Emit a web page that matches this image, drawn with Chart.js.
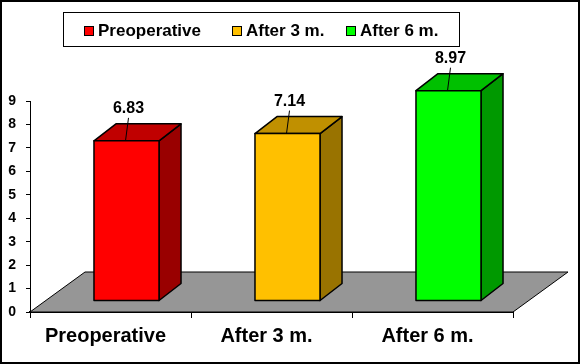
<!DOCTYPE html>
<html>
<head>
<meta charset="utf-8">
<script src="https://cdn.jsdelivr.net/npm/chart.js@4.4.0/dist/chart.umd.min.js"></script>
<style>
  body { margin: 0; background: #fff; }
  canvas { display: block; }
</style>
</head>
<body>
<canvas id="scoreChart" width="580" height="364"></canvas>
<script>
// chart values
const categories = ['Preoperative', 'After 3 m.', 'After 6 m.'];
const scores = [6.83, 7.14, 8.97];
const yTicks = [0, 1, 2, 3, 4, 5, 6, 7, 8, 9];

// face colours: front / top / side
const frontColors = ['#FF0000', '#FFC000', '#00FF00'];
const topColors = ['#C00000', '#C09000', '#00C000'];
const sideColors = ['#990000', '#997300', '#009900'];

const FONT = 'Arial, "Liberation Sans", sans-serif';

// 3d look: bar sits a bit back on the floor
const barShift = { x: 16, y: -11 };
const barDepth = { x: 22, y: -17 };
const floorDepth = { x: 55, y: -40 };
const legendX = [84, 232, 346];

const bar3d = {
    id: 'bar3d',
    beforeDraw(chart) {
        const ctx = chart.ctx;
        ctx.save();
        ctx.fillStyle = '#fff';
        ctx.fillRect(0, 0, chart.width, chart.height);
        ctx.restore();
    },
    beforeDatasetsDraw(chart) {
        // grey floor
        const ctx = chart.ctx;
        const area = chart.chartArea;
        const y0 = chart.scales.y.getPixelForValue(0);
        ctx.save();
        ctx.beginPath();
        ctx.moveTo(area.left, y0);
        ctx.lineTo(area.right, y0);
        ctx.lineTo(area.right + floorDepth.x, y0 + floorDepth.y);
        ctx.lineTo(area.left + floorDepth.x, y0 + floorDepth.y);
        ctx.closePath();
        ctx.fillStyle = '#969696';
        ctx.fill();
        ctx.strokeStyle = '#000';
        ctx.lineWidth = 1;
        ctx.stroke();
        ctx.restore();
    },
    afterDatasetsDraw(chart) {
        const ctx = chart.ctx;
        const meta = chart.getDatasetMeta(0);
        ctx.save();
        ctx.strokeStyle = '#000';
        ctx.lineJoin = 'round';
        meta.data.forEach((el, i) => {
            const cx = el.x + barShift.x;
            const w = el.width;
            const left = cx - w / 2, right = cx + w / 2;
            const top = el.y + barShift.y, bottom = el.base + barShift.y;
            const dx = barDepth.x, dy = barDepth.y;
            ctx.lineWidth = 1.5;

            // side
            ctx.beginPath();
            ctx.moveTo(right, top);
            ctx.lineTo(right + dx, top + dy);
            ctx.lineTo(right + dx, bottom + dy);
            ctx.lineTo(right, bottom);
            ctx.closePath();
            ctx.fillStyle = sideColors[i];
            ctx.fill();
            ctx.stroke();

            // top
            ctx.beginPath();
            ctx.moveTo(left, top);
            ctx.lineTo(right, top);
            ctx.lineTo(right + dx, top + dy);
            ctx.lineTo(left + dx, top + dy);
            ctx.closePath();
            ctx.fillStyle = topColors[i];
            ctx.fill();
            ctx.stroke();

            // front
            ctx.fillStyle = frontColors[i];
            ctx.fillRect(left, top, w, bottom - top);
            ctx.strokeRect(left, top, w, bottom - top);

            // value label + leader line
            const labelY = top + dy - 15;
            ctx.lineWidth = 1;
            ctx.beginPath();
            ctx.moveTo(cx - 1, top);
            ctx.lineTo(cx + 2, labelY + 9);
            ctx.stroke();
            ctx.fillStyle = '#000';
            ctx.font = 'bold 16px ' + FONT;
            ctx.textAlign = 'center';
            ctx.textBaseline = 'middle';
            ctx.fillText(scores[i].toFixed(2), cx + 2, labelY);
        });
        ctx.restore();
    },
    afterDraw(chart) {
        const ctx = chart.ctx;
        ctx.save();
        // legend box
        ctx.strokeStyle = '#000';
        ctx.lineWidth = 1;
        ctx.strokeRect(63.5, 12.5, 396, 34);
        ctx.font = 'bold 17px ' + FONT;
        ctx.textBaseline = 'alphabetic';
        ctx.textAlign = 'left';
        categories.forEach((name, i) => {
            ctx.fillStyle = frontColors[i];
            ctx.fillRect(legendX[i] + 0.5, 26.5, 9, 9);
            ctx.strokeRect(legendX[i] + 0.5, 26.5, 9, 9);
            ctx.fillStyle = '#000';
            ctx.fillText(name, legendX[i] + 14, 36);
        });
        // outer frame
        ctx.lineWidth = 2;
        ctx.strokeRect(1, 1, chart.width - 2, chart.height - 2);
        ctx.restore();
    }
};

const ctx1 = document.getElementById('scoreChart').getContext('2d');

const chartData = {
    labels: categories,
    datasets: [{
        label: 'Score',
        data: scores,
        backgroundColor: 'rgba(0,0,0,0)',
        borderWidth: 0,
        barPercentage: 0.404,
        categoryPercentage: 1
    }]
};

const config = {
    type: 'bar',
    data: chartData,
    options: {
        responsive: false,
        animation: false,
        layout: {
            padding: { left: 0, right: 67, top: 101, bottom: 0 }
        },
        plugins: {
            legend: { display: false },
            tooltip: { enabled: false }
        },
        scales: {
            x: {
                afterFit: s => { s.height = 52; },
                grid: {
                    drawOnChartArea: false,
                    drawTicks: true,
                    tickLength: 6,
                    color: '#000',
                    offset: true
                },
                border: { display: true, color: '#000', width: 2 },
                ticks: {
                    color: '#000',
                    font: { family: FONT, size: 20, weight: 'bold' },
                    padding: 6,
                    labelOffset: -5,
                    maxRotation: 0
                }
            },
            y: {
                min: 0,
                max: 9,
                afterBuildTicks: s => { s.ticks = yTicks.map(v => ({ value: v })); },
                afterFit: s => { s.width = 30; },
                grid: {
                    drawOnChartArea: false,
                    drawTicks: true,
                    tickLength: 4,
                    color: '#000'
                },
                border: { display: true, color: '#000', width: 1 },
                ticks: {
                    color: '#000',
                    font: { family: FONT, size: 14, weight: 'bold' },
                    padding: 10
                }
            }
        }
    },
    plugins: [bar3d]
};

const myChart = new Chart(ctx1, config);
</script>
</body>
</html>
